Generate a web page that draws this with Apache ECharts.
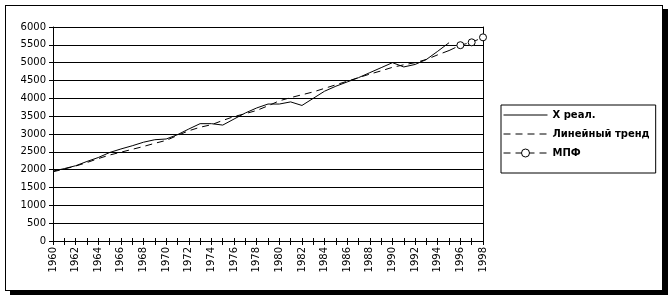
<!DOCTYPE html>
<html>
<head>
<meta charset="utf-8">
<script src="https://cdn.jsdelivr.net/npm/echarts@6/dist/echarts.min.js"></script>
<style>
  html, body { margin: 0; padding: 0; background: #fff; width: 670px; height: 296px; overflow: hidden; }
  #frame { position: absolute; left: 5px; top: 5px; width: 656px; height: 284px; border: 1px solid #000; box-shadow: 5px 4px 0 #000; background: #fff; }
  #chart { position: absolute; left: 0; top: 0; width: 670px; height: 296px; }
</style>
</head>
<body>
<div id="frame"></div>
<div id="chart"></div>
<script>
const years = [1960,1961,1962,1963,1964,1965,1966,1967,1968,1969,1970,1971,1972,1973,1974,1975,1976,1977,1978,1979,1980,1981,1982,1983,1984,1985,1986,1987,1988,1989,1990,1991,1992,1993,1994,1995];
const realValues = [1960,2030,2110,2230,2340,2480,2580,2670,2770,2840,2860,2980,3140,3290,3290,3250,3420,3590,3730,3840,3840,3900,3800,4000,4200,4340,4460,4580,4720,4860,5000,4880,4950,5090,5320,5560];
const trendValues = [1940,2020,2100,2200,2310,2410,2490,2570,2650,2740,2820,2960,3090,3190,3260,3380,3490,3570,3660,3790,3930,4020,4100,4180,4280,4380,4480,4580,4680,4770,4870,4940,5000,5090,5220,5340];
const mpfYears = [1995,1996,1997,1998];
const mpfValues = [5340,5490,5570,5710];
const seriesNames = ['Х реал.', 'Линейный тренд', 'МПФ'];

const font = 'DejaVu Sans';
const chart = echarts.init(document.getElementById('chart'), null, { renderer: 'canvas' });

const pairs = (xs, ys) => xs.map((x, i) => [x, ys[i]]);
const mpfData = pairs(mpfYears, mpfValues).map((p, i) => i === 0 ? { value: p, symbol: 'none' } : p);

chart.setOption({
  backgroundColor: 'transparent',
  animation: false,
  grid: { left: 53, right: 187, top: 27, bottom: 55 },
  xAxis: [{
    type: 'value', min: 1960, max: 1998, interval: 1,
    axisLine: { show: true, lineStyle: { color: '#000', width: 1 } },
    axisTick: { show: true, length: 4, lineStyle: { color: '#000' } },
    splitLine: { show: false },
    axisLabel: {
      rotate: 90, color: '#000', fontFamily: font, fontSize: 10, margin: 6,
      formatter: v => (v % 2 === 0 ? String(v) : '')
    }
  }, {
    type: 'value', min: 1960, max: 1998, interval: 1, position: 'bottom',
    axisLine: { show: false },
    axisTick: { show: true, inside: true, length: 3, lineStyle: { color: '#000' } },
    splitLine: { show: false },
    axisLabel: { show: false }
  }],
  yAxis: [{
    type: 'value', min: 0, max: 6000, interval: 500,
    axisLine: { show: true, lineStyle: { color: '#000', width: 1 } },
    axisTick: { show: true, length: 4, lineStyle: { color: '#000' } },
    splitLine: { show: true, lineStyle: { color: '#000', width: 1 } },
    axisLabel: { color: '#000', fontFamily: font, fontSize: 10, margin: 7, formatter: v => String(v) }
  }, {
    type: 'value', min: 0, max: 6000, interval: 500, position: 'right',
    axisLine: { show: true, lineStyle: { color: '#000', width: 1 } },
    axisTick: { show: false },
    splitLine: { show: false },
    axisLabel: { show: false }
  }],
  legend: {
    orient: 'vertical', left: 501, top: 105,
    padding: [5, 6, 15, 2],
    itemWidth: 44, itemHeight: 10, itemGap: 9, itemTextGap: 2,
    borderColor: '#000', borderWidth: 1, backgroundColor: '#fff',
    lineStyle: { width: 1 },
    textStyle: { color: '#000', fontFamily: font, fontSize: 10, fontWeight: 'bold' },
    data: [
      { name: seriesNames[0], itemStyle: { opacity: 0 }, lineStyle: { width: 1 } },
      { name: seriesNames[1], itemStyle: { opacity: 0 }, lineStyle: { width: 1 } },
      { name: seriesNames[2], itemStyle: { color: '#fff', borderColor: '#000', borderWidth: 1 }, lineStyle: { width: 1 } }
    ]
  },
  series: [{
    name: seriesNames[0], type: 'line', symbol: 'none',
    lineStyle: { color: '#000', width: 1 },
    itemStyle: { color: '#000' },
    data: pairs(years, realValues)
  }, {
    name: seriesNames[1], type: 'line', symbol: 'none',
    lineStyle: { color: '#000', width: 1, type: [7, 5] },
    itemStyle: { color: '#000' },
    data: pairs(years, trendValues)
  }, {
    name: seriesNames[2], type: 'line', symbol: 'circle', symbolSize: 7,
    lineStyle: { color: '#000', width: 1, type: [7, 5] },
    itemStyle: { color: '#fff', borderColor: '#000', borderWidth: 1 },
    data: mpfData
  }]
});
</script>
</body>
</html>
